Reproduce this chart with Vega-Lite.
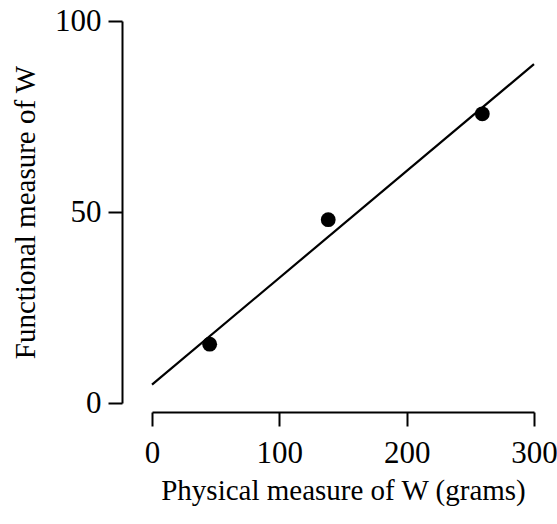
{
  "$schema": "https://vega.github.io/schema/vega-lite/v6.json",
  "autosize": {"type": "none"},
  "padding": {"left": 152, "top": 21, "right": 23, "bottom": 121},
  "width": 382,
  "height": 382,
  "background": "white",
  "config": {
    "font": "Liberation Serif",
    "view": {"stroke": null},
    "axis": {
      "labelFont": "Liberation Serif",
      "titleFont": "Liberation Serif",
      "labelFontSize": 31,
      "titleFontSize": 29,
      "labelColor": "black",
      "titleColor": "black",
      "titleFontWeight": "normal",
      "domainColor": "black",
      "tickColor": "black",
      "domainWidth": 2,
      "tickWidth": 2,
      "tickSize": 14,
      "grid": false
    }
  },
  "datasets": {
    "points": [
      {"physical": 45.3, "functional": 15.4},
      {"physical": 138.4, "functional": 48.0},
      {"physical": 259.4, "functional": 75.7}
    ],
    "fit": [
      {"physical": 0, "functional": 4.8},
      {"physical": 300, "functional": 88.7}
    ]
  },
  "layer": [
    {
      "data": {"name": "fit"},
      "mark": {"type": "line", "color": "black", "strokeWidth": 2.2},
      "encoding": {
        "x": {"field": "physical", "type": "quantitative"},
        "y": {"field": "functional", "type": "quantitative"}
      }
    },
    {
      "data": {"name": "points"},
      "mark": {"type": "circle", "color": "black", "opacity": 1, "size": 220},
      "encoding": {
        "x": {
          "field": "physical",
          "type": "quantitative",
          "scale": {"domain": [0, 300], "nice": false, "zero": true},
          "axis": {
            "title": "Physical measure of W (grams)",
            "values": [0, 100, 200, 300],
            "offset": 9,
            "labelPadding": 12,
            "titlePadding": 8,
            "labelFlush": false
          }
        },
        "y": {
          "field": "functional",
          "type": "quantitative",
          "scale": {"domain": [0, 100], "nice": false},
          "axis": {
            "title": "Functional measure of W",
            "values": [0, 50, 100],
            "offset": 30,
            "labelPadding": 7,
            "titlePadding": 14,
            "labelFlush": false
          }
        }
      }
    }
  ]
}
